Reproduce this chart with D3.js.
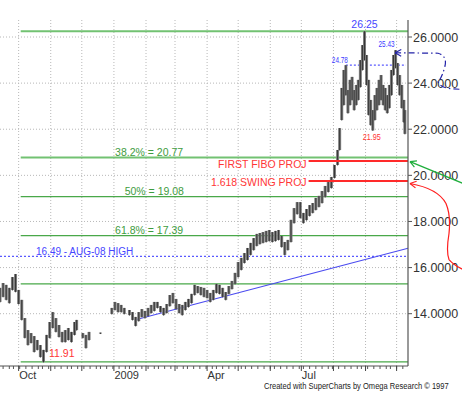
<!DOCTYPE html>
<html><head><meta charset="utf-8">
<script src="https://cdn.jsdelivr.net/npm/d3@7"></script>
<style>html,body{margin:0;padding:0;background:#fff;overflow:hidden}</style>
</head><body><svg id="c" width="462" height="398"></svg>
<script>
// ---------- DATA ----------
const barDates = [
 "2008-09-13","2008-09-16","2008-09-19","2008-09-22","2008-09-25","2008-09-28","2008-10-01","2008-10-04","2008-10-07","2008-10-10",
 "2008-10-13","2008-10-16","2008-10-19","2008-10-22","2008-10-25","2008-10-28","2008-10-31","2008-11-03","2008-11-06","2008-11-09",
 "2008-11-12","2008-11-15","2008-11-18","2008-11-21","2008-11-24","2008-11-26",
 "2008-12-02","2008-12-05","2008-12-08","2008-12-19",
 "2008-12-30","2009-01-02","2009-01-05","2009-01-08","2009-01-11",
 "2009-01-16","2009-01-19","2009-01-22","2009-01-25","2009-01-28","2009-01-31","2009-02-03","2009-02-06","2009-02-09","2009-02-12",
 "2009-02-15","2009-02-18","2009-02-21","2009-02-24","2009-02-27","2009-03-02","2009-03-05","2009-03-08","2009-03-11","2009-03-14",
 "2009-03-17","2009-03-20","2009-03-23","2009-03-26","2009-03-29","2009-04-01","2009-04-04","2009-04-07","2009-04-10","2009-04-13",
 "2009-04-16","2009-04-19","2009-04-22","2009-04-25","2009-04-28","2009-05-01","2009-05-04","2009-05-07","2009-05-10","2009-05-13",
 "2009-05-16","2009-05-19","2009-05-22","2009-05-25","2009-05-28","2009-05-31","2009-06-03","2009-06-06","2009-06-09","2009-06-12",
 "2009-06-15","2009-06-18","2009-06-21","2009-06-24","2009-06-27","2009-06-30","2009-07-03","2009-07-06","2009-07-09","2009-07-12",
 "2009-07-15","2009-07-18","2009-07-21","2009-07-24","2009-07-27","2009-07-30","2009-08-02","2009-08-05",
 "2009-08-07","2009-08-09","2009-08-11","2009-08-13","2009-08-15","2009-08-17","2009-08-19","2009-08-21","2009-08-23","2009-08-25",
 "2009-08-27","2009-08-29","2009-08-31","2009-09-02","2009-09-04","2009-09-06","2009-09-08","2009-09-10","2009-09-12","2009-09-14",
 "2009-09-16","2009-09-18","2009-09-20","2009-09-22","2009-09-24","2009-09-26","2009-09-28","2009-09-30","2009-10-02","2009-10-04",
 "2009-10-06","2009-10-08","2009-10-09"
];
const barHighs = [
 15.12,15.33,15.25,15.12,15.59,15.72,15.03,14.60,13.81,13.29,
 13.16,13.03,12.86,12.64,12.43,13.08,13.64,14.07,13.81,13.51,
 13.21,13.29,13.38,13.21,13.64,13.73,
 13.16,13.08,13.21,13.18,
 14.25,14.51,14.46,14.38,14.25,
 14.16,14.07,13.86,14.07,14.20,14.12,14.25,14.38,14.51,14.51,
 14.33,14.25,14.42,14.81,14.90,14.64,14.42,14.38,14.51,14.64,
 14.86,15.25,15.20,15.16,15.12,15.03,14.90,15.03,15.29,15.25,
 15.12,14.94,15.20,15.42,15.77,16.24,16.42,16.63,16.85,17.07,
 17.28,17.46,17.50,17.54,17.59,17.63,17.54,17.59,17.63,17.37,
 17.11,17.20,18.07,18.58,18.84,18.84,18.37,18.54,18.71,18.80,
 19.02,19.11,19.32,19.54,19.71,19.93,20.45,21.10,
 22.05,23.79,24.57,24.78,23.70,24.14,24.27,23.70,23.92,24.14,
 25.00,25.65,26.25,25.22,24.14,23.27,22.83,23.48,23.79,24.14,
 24.35,23.92,23.79,23.48,23.92,24.57,25.22,25.43,24.87,24.35,
 23.92,23.27,22.83
];
const barLows = [
 14.51,14.73,14.60,14.46,15.03,14.95,14.42,13.73,12.95,12.64,
 12.73,12.34,12.43,12.12,11.91,12.34,12.95,13.38,13.21,12.99,
 12.77,12.77,12.86,12.77,13.08,13.29,
 12.95,12.51,12.86,13.14,
 13.99,14.16,14.07,14.07,13.99,
 13.94,13.73,13.47,13.68,13.86,13.81,13.90,14.03,14.12,14.25,
 14.07,13.94,14.03,14.33,14.46,14.20,14.03,13.94,14.16,14.29,
 14.46,14.81,14.90,14.81,14.73,14.68,14.51,14.60,14.90,14.86,
 14.73,14.60,14.86,15.07,15.29,15.59,15.90,16.20,16.33,16.55,
 16.76,16.94,17.02,17.07,17.11,17.15,17.11,17.15,17.20,16.89,
 16.55,16.76,17.11,17.93,18.32,18.15,17.93,18.06,18.24,18.37,
 18.50,18.63,18.80,19.06,19.28,19.45,19.89,20.45,
 21.10,22.40,23.05,23.48,22.70,23.05,23.27,22.83,23.05,23.27,
 23.83,24.57,25.00,23.92,22.62,22.18,21.95,22.40,22.83,23.05,
 23.27,23.05,22.83,22.70,22.92,23.48,24.35,24.66,23.92,23.48,
 22.92,22.31,21.80
];
const priceTicks = [14, 16, 18, 20, 22, 24, 26];
const quarterLabels = ["Oct", "2009", "Apr", "Jul"];
const quarterDates = ["2008-10-01", "2009-01-01", "2009-04-01", "2009-07-01"];
const fibLevels = [26.25, 20.77, 19.08, 17.39, 15.29, 11.91];
const fibTexts = ["", "38.2% = 20.77", "50% = 19.08", "61.8% = 17.39", "", ""];
const fibTextDates = ["", "2009-02-04", "2009-02-09", "2009-02-04", "", ""];
const fibStartDate = "2008-10-03";
const projLevels = [20.62, 19.75];
const projTexts = ["FIRST FIBO PROJ", "1.618 SWING PROJ"];
const projStartDate = "2009-07-08";
const augHighLevel = 16.49;
const augHighText = "16.49 - AUG-08 HIGH";
const trendDates = ["2009-01-21", "2009-10-12"];
const trendValues = [13.73, 16.84];
const pivotTexts = ["26.25", "25.43", "24.78", "21.95", "11.91"];
const pivotDates = ["2009-08-31", "2009-09-30", "2009-08-13", "2009-09-08", "2008-10-25"];
const pivotValues = [26.25, 25.43, 24.78, 21.95, 11.91];
const footerText = "Created with SuperCharts by Omega Research \u00A9 1997";

// ---------- LAYOUT ----------
const plot = {left: 0, right: 408, top: 20, bottom: 366};
const FONT = "'Liberation Sans', Arial, sans-serif";
const parse = d3.timeParse("%Y-%m-%d");
const svg = d3.select("#c");

const x = d3.scaleTime()
  .domain([parse("2008-09-13"), parse("2009-10-12")])
  .range([plot.left, plot.right]);
const y = d3.scaleLinear().domain([14, 26]).range([313.7, 37]);

const GREEN = "#49a849", GREEN_T = "#3e9c3e", RED = "#ff2a2a", BLUE = "#4646ff";

// gridlines
const months = d3.timeMonth.range(parse("2008-10-01"), parse("2009-10-02"));
svg.append("g").selectAll("line").data(months).join("line")
  .attr("x1", d => x(d)).attr("x2", d => x(d))
  .attr("y1", plot.top).attr("y2", plot.bottom)
  .attr("stroke", "#b8b8b8").attr("stroke-dasharray", "1,2");
svg.append("g").selectAll("line").data(priceTicks).join("line")
  .attr("x1", plot.left).attr("x2", plot.right)
  .attr("y1", d => y(d)).attr("y2", d => y(d))
  .attr("stroke", "#b8b8b8").attr("stroke-dasharray", "1,2");

// fib levels
svg.append("g").selectAll("line").data(fibLevels).join("line")
  .attr("x1", x(parse(fibStartDate))).attr("x2", plot.right)
  .attr("y1", d => y(d)).attr("y2", d => y(d))
  .attr("stroke", (d, i) => (i < 2 ? "#72c272" : GREEN))
  .attr("stroke-width", (d, i) => (i < 2 ? 2 : 1.2));
fibLevels.forEach((lv, i) => {
  if (!fibTexts[i]) return;
  svg.append("text")
    .attr("x", x(parse(fibTextDates[i])))
    .attr("y", y(lv) - 2)
    .attr("text-anchor", "middle")
    .attr("font-family", FONT).attr("font-size", 10.5).attr("fill", GREEN_T)
    .text(fibTexts[i]);
});

// Aug-08 high
svg.append("line").attr("x1", plot.left).attr("x2", plot.right)
  .attr("y1", y(augHighLevel)).attr("y2", y(augHighLevel))
  .attr("stroke", "#5a5aff").attr("stroke-width", 1.2).attr("stroke-dasharray", "2,2");
svg.append("text").attr("x", 36).attr("y", y(augHighLevel) - 1.5)
  .attr("font-family", FONT).attr("font-size", 10).attr("fill", BLUE)
  .text(augHighText);

// trend line
svg.append("line")
  .attr("x1", x(parse(trendDates[0]))).attr("y1", y(trendValues[0]))
  .attr("x2", x(parse(trendDates[1]))).attr("y2", y(trendValues[1]))
  .attr("stroke", "#4b4bf0").attr("stroke-width", 1.1);

// 24.78 dotted
svg.append("line").attr("x1", x(parse(pivotDates[2]))).attr("x2", plot.right - 2)
  .attr("y1", y(pivotValues[2])).attr("y2", y(pivotValues[2]))
  .attr("stroke", "#5a5aff").attr("stroke-width", 1.2).attr("stroke-dasharray", "2,2");

// bars
const bars = barDates.map((d, i) => ({date: parse(d), hi: barHighs[i], lo: barLows[i]}));
const gb = svg.append("g");
gb.selectAll("rect").data(bars).join("rect")
  .attr("x", d => x(d.date) - 1.5).attr("width", 3)
  .attr("y", d => y(d.hi)).attr("height", d => Math.max(1, y(d.lo) - y(d.hi)))
  .attr("fill", "#7c7c7c");
gb.selectAll("line").data(bars).join("line")
  .attr("x1", d => x(d.date)).attr("x2", d => x(d.date))
  .attr("y1", d => y(d.hi)).attr("y2", d => y(d.lo) + 0.5)
  .attr("stroke", "#2e2e2e").attr("stroke-width", 0.9);

// projection lines
svg.append("g").selectAll("line").data(projLevels).join("line")
  .attr("x1", x(parse(projStartDate))).attr("x2", plot.right)
  .attr("y1", d => y(d)).attr("y2", d => y(d))
  .attr("stroke", RED).attr("stroke-width", 2);
const projDy = [7, 4.5];
projLevels.forEach((lv, i) => {
  svg.append("text")
    .attr("x", x(parse(projStartDate)) - 2)
    .attr("y", y(lv) + projDy[i])
    .attr("text-anchor", "end")
    .attr("font-family", FONT).attr("font-size", 10.5).attr("fill", "#ff3636")
    .text(projTexts[i]);
});

// pivot labels
const pivotLayout = [
  {dx: 0, dy: -3, size: 10.5, color: BLUE, anchor: "middle", len: null},
  {dx: -9, dy: -3, size: 9, color: "#3a3aff", anchor: "middle", len: 16},
  {dx: -6, dy: -2.6, size: 9, color: "#3a3aff", anchor: "middle", len: 16},
  {dx: -1, dy: 9.5, size: 9, color: "#ff3030", anchor: "middle", len: 18},
  {dx: 5.5, dy: -5, size: 10.5, color: "#ff3636", anchor: "start", len: null}
];
pivotTexts.forEach((t, i) => {
  const L = pivotLayout[i];
  const tx = svg.append("text")
    .attr("x", x(parse(pivotDates[i])) + L.dx)
    .attr("y", y(pivotValues[i]) + L.dy)
    .attr("text-anchor", L.anchor)
    .attr("font-family", FONT).attr("font-size", L.size).attr("fill", L.color)
    .text(t);
  if (L.len) tx.attr("textLength", L.len).attr("lengthAdjust", "spacingAndGlyphs");
});

// right axis
const yAxis = svg.append("g");
yAxis.append("line").attr("x1", plot.right).attr("x2", plot.right)
  .attr("y1", plot.top).attr("y2", plot.bottom).attr("stroke", "#555").attr("stroke-width", 1.2);
priceTicks.forEach(d => {
  yAxis.append("line").attr("x1", plot.right).attr("x2", plot.right + 4)
    .attr("y1", y(d)).attr("y2", y(d)).attr("stroke", "#555");
  yAxis.append("text").attr("x", plot.right + 5).attr("y", y(d)).attr("dy", "0.36em")
    .attr("font-family", FONT).attr("font-size", 12.5).attr("fill", "#333")
    .text(d3.format(".4f")(d));
});

// bottom axis
const xAxis = svg.append("g");
xAxis.append("line").attr("x1", plot.left).attr("x2", plot.right)
  .attr("y1", plot.bottom).attr("y2", plot.bottom).attr("stroke", "#555").attr("stroke-width", 1.2);
const tradingDays = d3.timeDays(x.domain()[0], x.domain()[1]).filter(d => d.getDay() !== 0 && d.getDay() !== 6);
const minorTicks = tradingDays.filter((d, i) => i % 4 === 1);
xAxis.selectAll("line.mi").data(minorTicks).join("line").attr("class", "mi")
  .attr("x1", d => x(d)).attr("x2", d => x(d))
  .attr("y1", plot.bottom).attr("y2", plot.bottom + 3).attr("stroke", "#555");
xAxis.selectAll("line.ma").data(months).join("line").attr("class", "ma")
  .attr("x1", d => x(d)).attr("x2", d => x(d))
  .attr("y1", plot.bottom).attr("y2", plot.bottom + 5).attr("stroke", "#444");
xAxis.selectAll("text").data(quarterLabels).join("text")
  .attr("x", (d, i) => x(parse(quarterDates[i])) + 0.5)
  .attr("y", plot.bottom + 13)
  .attr("font-family", FONT).attr("font-size", 11).attr("fill", "#333")
  .text(d => d);

// arrows in right margin
function arrowHead(tx, ty, toward, color) {
  const a = Math.atan2(toward[1] - ty, toward[0] - tx);
  [-0.5, 0.5].forEach(s => {
    svg.append("line").attr("x1", tx).attr("y1", ty)
      .attr("x2", tx + 7 * Math.cos(a + s)).attr("y2", ty + 7 * Math.sin(a + s))
      .attr("stroke", color).attr("stroke-width", 1.2);
  });
}
// blue dash-dot from the 25.43 high
{
  const tx = x(parse(pivotDates[1])) - 0.5, ty = y(pivotValues[1]) + 2.6;
  const c = "#2222a8";
  svg.append("path")
    .attr("d", `M${tx},${ty} L${tx+43},${ty+0.5} Q${tx+52},${ty+3} ${tx+50},${ty+13} Q${tx+47},${ty+25} ${tx+43},${ty+29} Q${tx+45},${ty+35} ${tx+57},${ty+36} L${tx+72},${ty+37}`)
    .attr("fill", "none").attr("stroke", c).attr("stroke-width", 1.2).attr("stroke-dasharray", "6,3,1.5,3");
  arrowHead(tx, ty, [tx + 43, ty + 0.5], c);
}
// green arrow to first fibo projection
{
  const tx = plot.right + 2, ty = y(projLevels[0]) + 0.6;
  const c = "#1fae3c";
  svg.append("line").attr("x1", tx).attr("y1", ty).attr("x2", tx + 56).attr("y2", ty + 23)
    .attr("stroke", c).attr("stroke-width", 1.2);
  arrowHead(tx, ty, [tx + 56, ty + 23], c);
}
// red curved arrow to swing projection
{
  const tx = plot.right + 2, ty = y(projLevels[1]) + 2.4;
  const c = "#ff1e1e";
  svg.append("path")
    .attr("d", `M${tx},${ty} Q${tx+28},${ty+5} ${tx+36},${ty+20} Q${tx+41},${ty+32} ${tx+39},${ty+50} Q${tx+36},${ty+68} ${tx+39},${ty+76} Q${tx+44},${ty+82} ${tx+57},${ty+88}`)
    .attr("fill", "none").attr("stroke", c).attr("stroke-width", 1.2);
  arrowHead(tx, ty, [tx + 28, ty + 5], c);
}

// footer (horizontally condensed like the original small font)
svg.append("text").attr("x", 0).attr("y", 0)
  .attr("transform", "translate(264,389) scale(0.84,1)")
  .attr("font-family", FONT).attr("font-size", 9).attr("fill", "#222")
  .text(footerText);
</script>
</body></html>
